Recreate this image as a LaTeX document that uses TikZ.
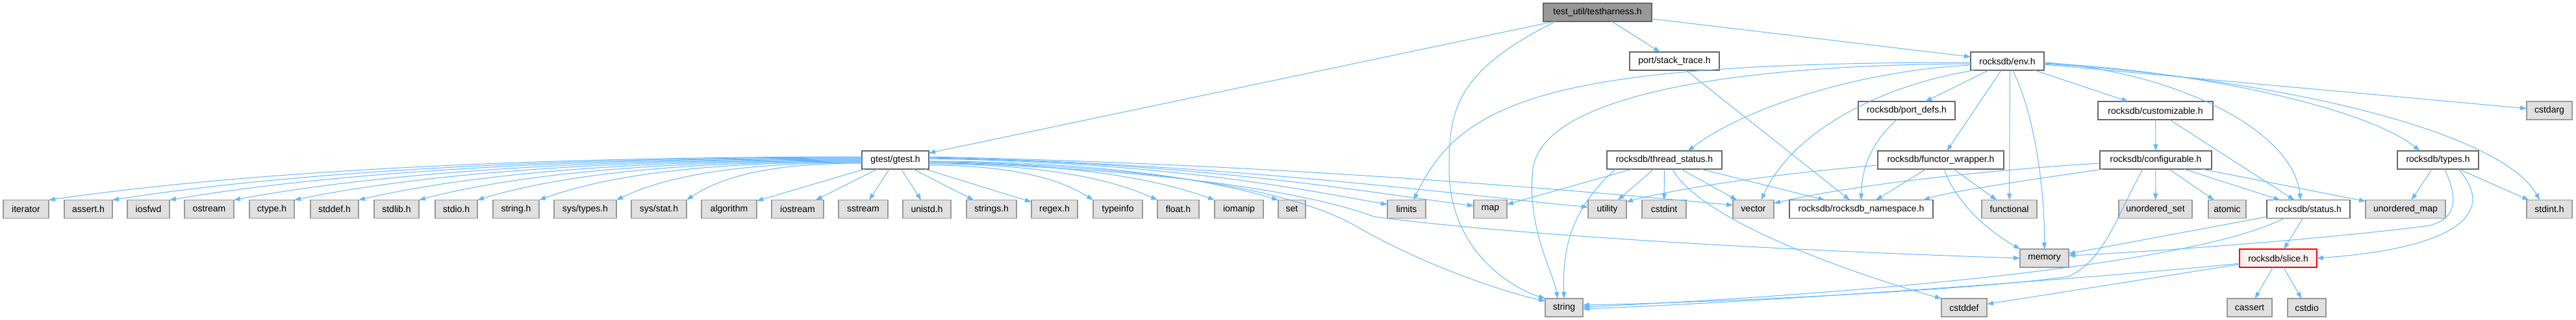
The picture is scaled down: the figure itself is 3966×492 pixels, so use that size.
\documentclass[tikz,border=0pt]{standalone}
\usepackage{fontspec}
\setmainfont{Liberation Sans}
\usetikzlibrary{arrows.meta}
\definecolor{edgec}{HTML}{63B8FF}
\definecolor{extfill}{HTML}{E0E0E0}
\definecolor{extdraw}{HTML}{999999}
\definecolor{docdraw}{HTML}{666666}
\definecolor{topfill}{HTML}{999999}
\definecolor{slfill}{HTML}{FFF0F0}
\begin{document}
\begin{tikzpicture}[x=1pt,y=-1pt,
 base/.style={rectangle, minimum height=28pt, inner sep=0pt, outer sep=0pt, font=\fontsize{14}{16}\selectfont, line width=1.2pt},
 doc/.style={base, draw=docdraw, fill=white},
 ext/.style={base, draw=extdraw, fill=extfill},
 cur/.style={base, draw=docdraw, fill=topfill},
 slicebox/.style={base, draw=red, fill=slfill},
 dep/.style={draw=edgec, line width=1pt, -{Triangle[length=10pt,width=7pt]}}
]
\fill[white] (0,0) rectangle (3966,492);
\useasboundingbox (0,0) rectangle (3966,492);

% rows 1-4
\node[cur, minimum width=167pt] (th) at (2459.5,19) {test\_util/testharness.h};
\node[doc, minimum width=138pt] (st) at (2578,94) {port/stack\_trace.h};
\node[doc, minimum width=113pt] (env) at (3090.5,94) {rocksdb/env.h};
\node[doc, minimum width=149pt] (pd) at (2935.5,170) {rocksdb/port\_defs.h};
\node[doc, minimum width=177pt] (cust) at (3318.5,170) {rocksdb/customizable.h};
\node[ext, minimum width=70pt] (cstdarg) at (3925,170) {cstdarg};
\node[doc, minimum width=103pt] (gtest) at (1378.5,246) {gtest/gtest.h};
\node[doc, minimum width=177pt] (ts) at (2562.5,246) {rocksdb/thread\_status.h};
\node[doc, minimum width=194pt] (fw) at (2988,246) {rocksdb/functor\_wrapper.h};
\node[doc, minimum width=172pt] (conf) at (3319,246) {rocksdb/configurable.h};
\node[doc, minimum width=125pt] (types) at (3753.5,246) {rocksdb/types.h};

% row 5
\node[ext, minimum width=70pt] (iterator) at (40,321.5) {iterator};
\node[ext, minimum width=74pt] (asserth) at (136,321.5) {assert.h};
\node[ext, minimum width=65pt] (iosfwd) at (228.5,321.5) {iosfwd};
\node[ext, minimum width=76pt] (ostream) at (322,321.5) {ostream};
\node[ext, minimum width=69pt] (ctypeh) at (418.5,321.5) {ctype.h};
\node[ext, minimum width=74pt] (stddefh) at (515,321.5) {stddef.h};
\node[ext, minimum width=69pt] (stdlibh) at (610.5,321.5) {stdlib.h};
\node[ext, minimum width=65pt] (stdioh) at (702.5,321.5) {stdio.h};
\node[ext, minimum width=71pt] (stringh) at (794.5,321.5) {string.h};
\node[ext, minimum width=96pt] (systypes) at (901,321.5) {sys/types.h};
\node[ext, minimum width=85pt] (sysstat) at (1014.5,321.5) {sys/stat.h};
\node[ext, minimum width=85pt] (algorithm) at (1122.5,321.5) {algorithm};
\node[ext, minimum width=80pt] (iostream) at (1228,321.5) {iostream};
\node[ext, minimum width=76pt] (sstream) at (1329,321.5) {sstream};
\node[ext, minimum width=74pt] (unistdh) at (1427,321.5) {unistd.h};
\node[ext, minimum width=77pt] (stringsh) at (1526.5,321.5) {strings.h};
\node[ext, minimum width=71pt] (regexh) at (1623.5,321.5) {regex.h};
\node[ext, minimum width=76pt] (typeinfo) at (1721,321.5) {typeinfo};
\node[ext, minimum width=64pt] (floath) at (1814,321.5) {float.h};
\node[ext, minimum width=75pt] (iomanip) at (1907.5,321.5) {iomanip};
\node[ext, minimum width=42pt] (nset) at (1989,321.5) {set};
\node[ext, minimum width=59pt] (limits) at (2165.5,321.5) {limits};
\node[ext, minimum width=51pt] (map) at (2294.5,321.5) {map};
\node[ext, minimum width=59pt] (utility) at (2474.5,321.5) {utility};
\node[ext, minimum width=68pt] (cstdint) at (2562,321.5) {cstdint};
\node[ext, minimum width=63pt] (vector) at (2699.5,321.5) {vector};
\node[doc, minimum width=221pt] (ns) at (2865.5,321.5) {rocksdb/rocksdb\_namespace.h};
\node[ext, minimum width=85pt] (functional) at (3093.5,321.5) {functional};
\node[ext, minimum width=113pt] (uset) at (3318.5,321.5) {unordered\_set};
\node[ext, minimum width=58pt] (atomic) at (3429,321.5) {atomic};
\node[doc, minimum width=128pt] (status) at (3554,321.5) {rocksdb/status.h};
\node[ext, minimum width=123pt] (umap) at (3703.5,321.5) {unordered\_map};
\node[ext, minimum width=70pt] (stdinth) at (3925,321.5) {stdint.h};

% row 6-7
\node[ext, minimum width=75pt] (memory) at (3147.5,397) {memory};
\node[slicebox, minimum width=119pt] (slice) at (3507.5,397) {rocksdb/slice.h};
\node[ext, minimum width=58pt] (string) at (2408,473) {string};
\node[ext, minimum width=70pt] (cstddef) at (3024,473) {cstddef};
\node[ext, minimum width=69pt] (cassert) at (3463.5,473) {cassert};
\node[ext, minimum width=59pt] (cstdio) at (3551.5,473) {cstdio};

% testharness
\draw[dep] (th) -- (gtest);
\draw[dep] (th) -- (st);
\draw[dep] (th) -- (env);
\draw[dep] ([xshift=19pt]th.south west) .. controls (2240,110) and (2231,170) .. (2231,260) .. controls (2231,380) and (2320,440) .. (string.north west);
\draw[dep] (st) -- (ns);

% gtest left fan
\foreach \n/\sy/\dx in {iterator/5/1252, asserth/4/1154, iosfwd/3/1066, ostream/2/967, ctypeh/1/874, stddefh/0/775, stdlibh/-1/682, stdioh/-2/592, stringh/-3/497, systypes/-4/378, sysstat/-5/270}
  \draw[dep] ([yshift=\sy pt]gtest.west) .. controls +(-0.4*\dx,0) and +(0.25*\dx,-45) .. (\n.north east);
\foreach \n in {algorithm, iostream, sstream, unistdh, stringsh, regexh}
  \draw[dep] (gtest) -- (\n);
\foreach \n/\sy/\dx in {typeinfo/-8/253, floath/-6/352, iomanip/-4/440, nset/-2/538}
  \draw[dep] ([yshift=\sy pt]gtest.east) .. controls +(0.4*\dx,0) and +(-0.25*\dx,-40) .. (\n.north west);
\draw[dep] ([yshift=2pt]gtest.east) .. controls (1800,250) and (2000,290) .. ([yshift=7pt]limits.west);
\draw[dep] ([yshift=3pt]gtest.east) .. controls (1850,250) and (2100,295) .. ([yshift=5pt]map.west);
\draw[dep] ([yshift=4pt]gtest.east) .. controls (1900,252) and (2250,300) .. ([yshift=3pt]utility.west);
\draw[dep] ([yshift=5pt]gtest.east) .. controls (1950,252) and (2400,290) .. ([yshift=6pt]vector.west);
\draw[dep] ([yshift=-2pt]gtest.east) .. controls (1750,255) and (1980,285) .. (2092,350) .. controls (2182,402) and (2300,445) .. ([yshift=-4pt]string.north west);
\draw[dep] ([yshift=-4pt]gtest.east) .. controls (1750,258) and (2000,290) .. (2115,333) .. controls (2250,352) and (2600,380) .. (memory.west);

% env
\draw[dep] (env) -- (cstdarg);
\draw[dep] (env) -- (cust);
\draw[dep] (env) -- (pd);
\draw[dep] (env) -- (fw);
\draw[dep] ([yshift=-6pt]env.west) .. controls (2850,110) and (2680,170) .. ([xshift=36pt]ts.north);
\draw[dep] ([yshift=-2pt]env.west) .. controls (2400,96) and (2250,150) .. ([xshift=11pt]limits.north);
\draw[dep] ([yshift=-4pt]env.west) .. controls (2650,100) and (2375,150) .. (2360,260) .. controls (2350,350) and (2392,420) .. ([xshift=-10pt]string.north);
\draw[dep] ([xshift=6pt]env.south west) .. controls (2900,130) and (2760,200) .. ([xshift=12pt]vector.north);
\draw[dep] ([xshift=4pt]env.south) -- (functional.north);
\draw[dep] ([xshift=8pt]env.south) .. controls (3135,180) and (3148,300) .. (memory.north);
\draw[dep] ([yshift=-2pt]env.east) .. controls (3350,110) and (3530,200) .. ([xshift=-12pt]status.north);
\draw[dep] ([yshift=-3pt]env.east) .. controls (3400,110) and (3650,170) .. ([xshift=-28pt]types.north);
\draw[dep] ([yshift=-4pt]env.east) .. controls (3500,120) and (3850,200) .. ([xshift=-15pt]stdinth.north);

% port_defs, customizable
\draw[dep] ([xshift=-15pt]pd.south) .. controls (2880,220) and (2866,260) .. (ns.north);
\draw[dep] (cust) -- (conf);
\draw[dep] (cust) -- (status);

% thread_status
\draw[dep] (ts) -- (map);
\draw[dep] (ts) -- (utility);
\draw[dep] (ts) -- (cstdint);
\draw[dep] (ts) -- (vector);
\draw[dep] (ts) -- (ns);
\draw[dep] ([xshift=-75pt]ts.south) .. controls (2420,320) and (2405,380) .. (string.north);
\draw[dep] ([xshift=12pt]ts.south) .. controls (2620,340) and (2850,420) .. (cstddef.north west);

% functor_wrapper
\draw[dep] (fw) -- (ns);
\draw[dep] (fw) -- (functional);
\draw[dep] ([yshift=-8pt]fw.west) .. controls (2700,270) and (2560,295) .. ([yshift=-3pt]utility.north east);
\draw[dep] ([xshift=5pt]fw.south) .. controls (3015,320) and (3070,360) .. (memory.north west);

% configurable
\draw[dep] (conf) -- (uset);
\draw[dep] (conf) -- (atomic);
\draw[dep] (conf) -- (status);
\draw[dep] (conf) -- (umap);
\draw[dep] ([yshift=-5pt]conf.west) .. controls (3050,262) and (2850,285) .. ([yshift=-5pt]vector.north east);
\draw[dep] ([xshift=5pt]conf.south west) .. controls (3100,280) and (3000,295) .. ([xshift=-15pt]ns.north east);
\draw[dep] ([xshift=-20pt]conf.south) .. controls (3260,330) and (3240,400) .. (3185,425) .. controls (3050,445) and (2650,465) .. ([yshift=4pt]string.east);

% types
\draw[dep] (types) -- (umap);
\draw[dep] (types) -- (stdinth);
\draw[dep] ([xshift=10pt]types.south) .. controls (3780,295) and (3790,335) .. (3739,347) .. controls (3600,365) and (3350,385) .. ([yshift=4pt]memory.east);
\draw[dep] ([xshift=31pt]types.south) .. controls (3840,320) and (3800,380) .. (slice.east);

% status
\draw[dep] (status) -- (memory);
\draw[dep] (status) -- (slice);
\draw[dep] ([xshift=-37pt]status.south) .. controls (3350,420) and (2700,460) .. ([yshift=1pt]string.east);

% slice
\draw[dep] (slice) -- (cassert);
\draw[dep] (slice) -- (cstdio);
\draw[dep] (slice) -- (cstddef);
\draw[dep] ([yshift=-8pt]slice.west) .. controls (3200,430) and (2700,465) .. ([yshift=-2pt]string.east);
\end{tikzpicture}
\end{document}
